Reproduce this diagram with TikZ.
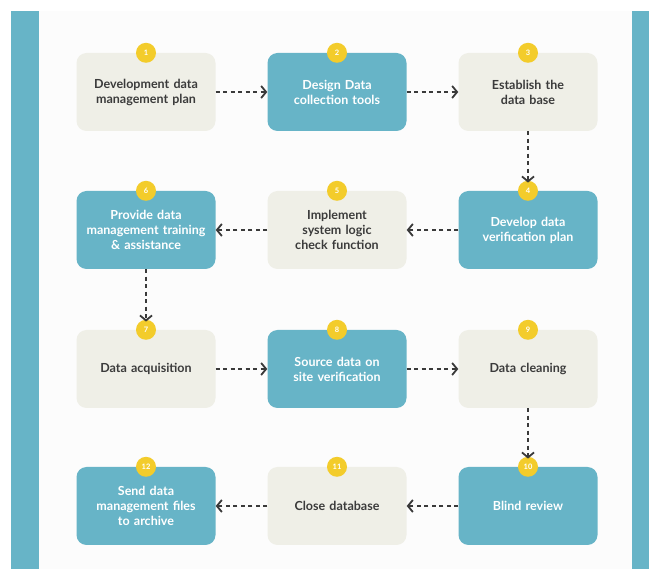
\documentclass[tikz,border=0pt]{standalone}
\usepackage{fontspec}
\setmainfont{Lato}
\usetikzlibrary{arrows.meta}
\definecolor{tealc}{HTML}{67B4C7}
\definecolor{beigec}{HTML}{EFEFE7}
\definecolor{yellowc}{HTML}{F3CC2B}
\definecolor{textc}{HTML}{3B3B3B}
\definecolor{arrowc}{HTML}{3A3A3A}
\tikzset{
  boxbase/.style={rounded corners=10pt, minimum width=139pt, minimum height=78pt,
    align=center, font=\fontsize{12.5}{15}\selectfont\bfseries, inner sep=1pt, text width=136pt},
  tealbox/.style={boxbase, fill=tealc, text=white},
  beigebox/.style={boxbase, fill=beigec, text=textc},
  numc/.style={circle, fill=yellowc, minimum size=20pt, inner sep=0pt,
    text=white, font=\fontsize{7.5}{7.5}\selectfont\bfseries},
  flow/.style={draw=arrowc, line width=2pt, dash pattern=on 4pt off 3.5pt,
    -{Straight Barb[length=5pt,width=12pt,line width=1.8pt]}},
}
\begin{document}
\begin{tikzpicture}[x=1pt,y=-1pt]
\useasboundingbox (0,0) rectangle (649,569);
\fill[white] (0,0) rectangle (649,569);
\fill[black!1] (39,11) rectangle (632,569);
\fill[tealc] (11,11) rectangle (39,569);
\fill[tealc] (632,11) rectangle (649,569);
% row 1
\node[beigebox] (b1) at (146,92) {Development data\\management plan};
\node[tealbox]  (b2) at (337,92) {Design Data\\collection tools};
\node[beigebox] (b3) at (528,92) {Establish the\\data base};
% row 2
\node[tealbox]  (b6) at (146,230) {Provide data\\management training\\\& assistance};
\node[beigebox] (b5) at (337,230) {Implement\\system logic\\check function};
\node[tealbox]  (b4) at (528,230) {Develop data\\verification plan};
% row 3
\node[beigebox] (b7) at (146,369) {Data acquisition};
\node[tealbox]  (b8) at (337,369) {Source data on\\site verification};
\node[beigebox] (b9) at (528,369) {Data cleaning};
% row 4
\node[tealbox]  (b12) at (146,506) {Send data\\management files\\to archive};
\node[beigebox] (b11) at (337,506) {Close database};
\node[tealbox]  (b10) at (528,506) {Blind review};
% number circles
\foreach \i in {1,...,12} {
  \node[numc] (n\i) at (b\i.north) {\i};
}
% connectors
\draw[flow] (b1.east) -- (b2.west);
\draw[flow] (b2.east) -- (b3.west);
\draw[flow] (b3.south) -- ([yshift=-2pt]n4.north);
\draw[flow] (b4.west) -- (b5.east);
\draw[flow] (b5.west) -- (b6.east);
\draw[flow] (b6.south) -- ([yshift=-2pt]n7.north);
\draw[flow] (b7.east) -- (b8.west);
\draw[flow] (b8.east) -- (b9.west);
\draw[flow] (b9.south) -- ([yshift=-2pt]n10.north);
\draw[flow] (b10.west) -- (b11.east);
\draw[flow] (b11.west) -- (b12.east);
\end{tikzpicture}
\end{document}
